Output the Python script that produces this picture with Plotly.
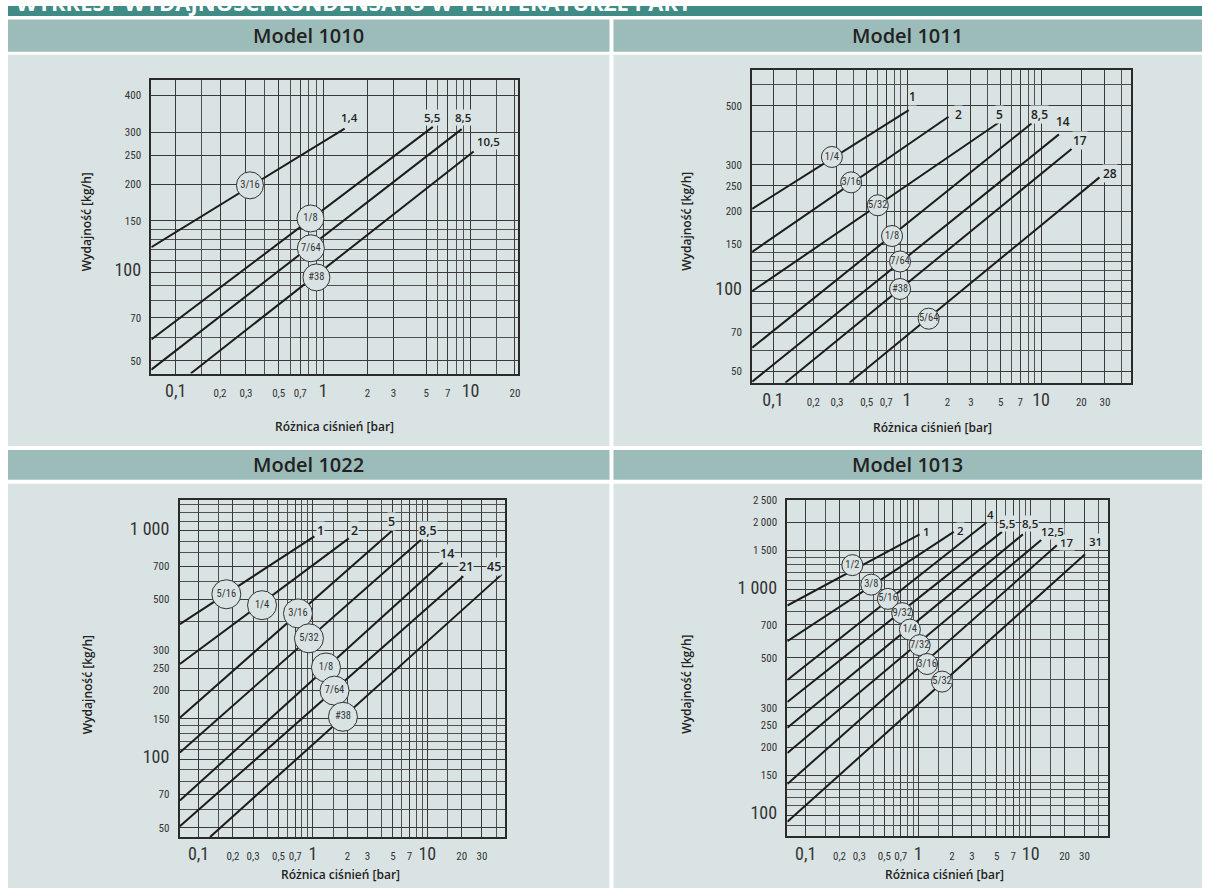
import math
import plotly.graph_objects as go

# ------------------------------------------------------------------ data
# Model 1010 : pressure difference [bar] vs capacity [kg/h]
m1010_sizes = ["1,4", "5,5", "8,5", "10,5"]
m1010_dp_start = [0.0684, 0.0684, 0.0684, 0.1266]
m1010_flow_start = [122, 59.1, 46.7, 45.3]
m1010_dp_end = [1.40, 5.55, 8.71, 10.5]
m1010_flow_end = [309, 313, 307.7, 258]
m1010_label_dp = [1.50, 5.46, 8.85, 13.3]
m1010_label_flow = [336, 336, 336, 279]
m1010_orifices = ["3/16", "1/8", "7/64", "#38"]
m1010_orifice_dp = [0.319, 0.821, 0.826, 0.901]
m1010_orifice_flow = [198, 152.7, 120.9, 96.2]

# Model 1011
m1011_sizes = ["1", "2", "5", "8,5", "14", "17", "28"]
m1011_dp_start = [0.0698, 0.0698, 0.0698, 0.0698, 0.0698, 0.1236, 0.372]
m1011_flow_start = [204.6, 140.8, 100, 61.2, 45.6, 45.2, 45.2]
m1011_dp_end = [1.03, 2.04, 4.81, 8.52, 13.6, 16.9, 27.3]
m1011_flow_end = [482, 455, 432, 430, 390.6, 344, 268.9]
m1011_label_dp = [1.09, 2.42, 4.92, 9.77, 14.7, 19.5, 32.6]
m1011_label_flow = [545, 465, 465, 465, 436, 371, 279]
m1011_orifices = ["1/4", "3/16", "5/32", "1/8", "7/64", "#38", "5/64"]
m1011_orifice_dp = [0.275, 0.383, 0.605, 0.773, 0.887, 0.887, 1.45]
m1011_orifice_flow = [321, 257.5, 211, 161.6, 129.5, 102, 78.8]

# Model 1022
m1022_sizes = ["1", "2", "5", "8,5", "14", "21", "45"]
m1022_dp_start = [0.0687, 0.0687, 0.0687, 0.0687, 0.0687, 0.0687, 0.126]
m1022_flow_start = [390, 260.8, 151.8, 107, 65.9, 50.8, 45.6]
m1022_dp_end = [1.03, 2.06, 4.92, 8.81, 13.6, 20.6, 44.8]
m1022_flow_end = [945, 926, 1000, 914, 727.5, 632.5, 644]
m1022_label_dp = [1.16, 2.32, 4.89, 10.2, 14.9, 21.7, 37.9]
m1022_label_flow = [1006, 1006, 1094, 998, 797, 697, 697]
m1022_orifices = ["5/16", "1/4", "3/16", "5/32", "1/8", "7/64", "#38"]
m1022_orifice_dp = [0.175, 0.359, 0.74, 0.923, 1.30, 1.545, 1.83]
m1022_orifice_flow = [527, 472, 434.5, 338, 252, 199.5, 153.3]

# Model 1013
m1013_sizes = ["1", "2", "4", "5,5", "8,5", "12,5", "17", "31"]
m1013_dp_start = [0.0687, 0.0687, 0.0687, 0.0687, 0.0687, 0.0687, 0.0687, 0.0687]
m1013_flow_start = [853, 592, 398.6, 318, 244.5, 188.7, 137.5, 93.4]
m1013_dp_end = [1.03, 2.07, 4.03, 5.55, 8.52, 12.4, 17.06, 30.4]
m1013_flow_end = [1765, 1811, 1987, 1811, 1765, 1667, 1578, 1440]
m1013_label_dp = [1.19, 2.37, 4.38, 6.15, 9.77, 15.7, 20.9, 37.8]
m1013_label_flow = [1811, 1838, 2163, 1973, 1973, 1811, 1622, 1649]
m1013_orifices = ["1/2", "3/8", "5/16", "9/32", "1/4", "7/32", "3/16", "5/32"]
m1013_orifice_dp = [0.26, 0.383, 0.538, 0.721, 0.844, 1.03, 1.20, 1.63]
m1013_orifice_flow = [1289, 1056, 913, 789, 667, 569, 469, 392]

# axis ticks / grid values
x_ticks_1010 = [0.1, 0.2, 0.3, 0.5, 0.7, 1, 2, 3, 5, 7, 10, 20]
x_text_1010 = ["0,1", "0,2", "0,3", "0,5", "0,7", "1", "2", "3", "5", "7", "10", "20"]
x_grid_1010 = [0.15, 0.4, 0.6, 0.8, 0.9, 6, 8, 9, 15]
y_ticks_1010 = [50, 70, 100, 150, 200, 250, 300, 400]
y_text_1010 = ["50", "70", "100", "150", "200", "250", "300", "400"]
y_grid_1010 = [60, 80, 90, 110, 120, 130, 140]

x_ticks_wide = [0.1, 0.2, 0.3, 0.5, 0.7, 1, 2, 3, 5, 7, 10, 20, 30]
x_text_wide = ["0,1", "0,2", "0,3", "0,5", "0,7", "1", "2", "3", "5", "7", "10", "20", "30"]
x_grid_1011 = [0.15, 0.4, 0.6, 0.8, 0.9, 4, 6, 8, 9, 40]
x_grid_wide = [0.15, 0.4, 0.6, 0.8, 0.9, 1.5, 4, 6, 8, 9, 15, 40]

y_ticks_1011 = [50, 70, 100, 150, 200, 250, 300, 500]
y_text_1011 = ["50", "70", "100", "150", "200", "250", "300", "500"]
y_grid_1011 = [60, 80, 90, 110, 120, 130, 140, 400, 600]

y_ticks_1022 = [50, 70, 100, 150, 200, 250, 300, 500, 700, 1000]
y_text_1022 = ["50", "70", "100", "150", "200", "250", "300", "500", "700", "1 000"]
y_grid_1022 = [60, 80, 90, 110, 120, 130, 140, 400, 600, 800, 900, 1100, 1200, 1300]

y_ticks_1013 = [100, 150, 200, 250, 300, 500, 700, 1000, 1500, 2000, 2500]
y_text_1013 = ["100", "150", "200", "250", "300", "500", "700", "1 000", "1 500", "2 000", "2 500"]
y_grid_1013 = [90, 110, 120, 130, 140, 400, 600, 800, 900, 1100, 1200, 1300, 1400]

BIG_LABELS = {"0,1", "1", "10", "100", "1 000"}

# ------------------------------------------------------------------ style
W, H = 1205, 888
BANNER = "#418b86"
HEAD = "#9cbcb9"
BODY = "#dae3e3"
NUM = "Liberation Sans Narrow, Arial Narrow, Roboto Condensed, Roboto, sans-serif"
TXT = "Open Sans, Noto Sans, sans-serif"


def fx(p):
    return p / W


def fy(p):
    return 1 - p / H


def fmt(labels):
    return [f"<span style='font-size:18px'>{t}</span>" if t in BIG_LABELS else t for t in labels]


fig = go.Figure()
shapes = []
annotations = []


def rect(x0, y0, x1, y1, c):
    shapes.append(dict(type="rect", xref="paper", yref="paper", x0=fx(x0), x1=fx(x1),
                       y0=fy(y1), y1=fy(y0), fillcolor=c, line=dict(width=0), layer="below"))


rect(8, 0, 1205, 10, BANNER)
rect(8, 13.5, 611, 46, HEAD)
rect(615, 13.5, 1205, 46, HEAD)
rect(8, 49, 611, 443, BODY)
rect(615, 49, 1205, 443, BODY)
rect(8, 447, 611, 477, HEAD)
rect(615, 447, 1205, 477, HEAD)
rect(8, 481, 611, 888, BODY)
rect(615, 481, 1205, 888, BODY)

annotations.append(dict(text="<b>WYKRESY WYDAJNOŚCI KONDENSATU W TEMPERATURZE PARY</b>",
                        xref="paper", yref="paper", x=fx(14), y=fy(-4), xanchor="left",
                        yanchor="middle", showarrow=False,
                        font=dict(family=TXT, size=22, color="white")))

panels = [
    dict(title="Model 1010", hx=309.5, hy=30, xd=(151.7, 519), yd=(74, 370),
         xr=(-1.165, 1.32), yr=(1.656, 2.657),
         xt=x_ticks_1010, xtt=x_text_1010, xg=x_grid_1010,
         yt=y_ticks_1010, ytt=y_text_1010, yg=y_grid_1010,
         sizes=m1010_sizes, xs=m1010_dp_start, ys=m1010_flow_start,
         xe=m1010_dp_end, ye=m1010_flow_end, lx=m1010_label_dp, ly=m1010_label_flow,
         on=m1010_orifices, ox=m1010_orifice_dp, oy=m1010_orifice_flow, od=27,
         ytitle=(87, 217), xtitle=(335, 423), lsize=11.5),
    dict(title="Model 1011", hx=910, hy=30, xd=(754, 1134.3), yd=(64.3, 379.3),
         xr=(-1.156, 1.675), yr=(1.655, 2.835),
         xt=x_ticks_wide, xtt=x_text_wide, xg=x_grid_1011,
         yt=y_ticks_1011, ytt=y_text_1011, yg=y_grid_1011,
         sizes=m1011_sizes, xs=m1011_dp_start, ys=m1011_flow_start,
         xe=m1011_dp_end, ye=m1011_flow_end, lx=m1011_label_dp, ly=m1011_label_flow,
         on=m1011_orifices, ox=m1011_orifice_dp, oy=m1011_orifice_flow, od=21,
         ytitle=(688, 217), xtitle=(935, 424), lsize=12),
    dict(title="Model 1022", hx=309.5, hy=462, xd=(180, 506.7), yd=(497.7, 836.7),
         xr=(-1.166, 1.683), yr=(1.659, 3.133),
         xt=x_ticks_wide, xtt=x_text_wide, xg=x_grid_wide,
         yt=y_ticks_1022, ytt=y_text_1022, yg=y_grid_1022,
         sizes=m1022_sizes, xs=m1022_dp_start, ys=m1022_flow_start,
         xe=m1022_dp_end, ye=m1022_flow_end, lx=m1022_label_dp, ly=m1022_label_flow,
         on=m1022_orifices, ox=m1022_orifice_dp, oy=m1022_orifice_flow, od=29,
         ytitle=(88, 683), xtitle=(341, 874), lsize=12.5),
    dict(title="Model 1013", hx=910, hy=462, xd=(789.3, 1111), yd=(497.7, 836),
         xr=(-1.163, 1.689), yr=(1.906, 3.398),
         xt=x_ticks_wide, xtt=x_text_wide, xg=x_grid_wide,
         yt=y_ticks_1013, ytt=y_text_1013, yg=y_grid_1013,
         sizes=m1013_sizes, xs=m1013_dp_start, ys=m1013_flow_start,
         xe=m1013_dp_end, ye=m1013_flow_end, lx=m1013_label_dp, ly=m1013_label_flow,
         on=m1013_orifices, ox=m1013_orifice_dp, oy=m1013_orifice_flow, od=21,
         ytitle=(688, 683), xtitle=(947, 874), lsize=11.5),
]

layout_axes = {}
for i, p in enumerate(panels, start=1):
    xa = "x" if i == 1 else f"x{i}"
    ya = "y" if i == 1 else f"y{i}"
    common = dict(type="log", showline=True, mirror=True, linecolor="#2a2a2a", linewidth=2,
                  ticks="", showgrid=True, gridcolor="#3a3a3a", gridwidth=1.3, zeroline=False,
                  tickmode="array", tickfont=dict(family=NUM, size=11, color="#333"),
                  fixedrange=True)
    layout_axes["xaxis" if i == 1 else f"xaxis{i}"] = dict(
        common, range=list(p["xr"]), domain=[fx(p["xd"][0]), fx(p["xd"][1])], anchor=ya,
        tickvals=p["xt"], ticktext=fmt(p["xtt"]), tickangle=0, ticklabelstandoff=8,
        minor=dict(tickmode="array", tickvals=p["xg"], showgrid=True, gridcolor="#505050",
                   gridwidth=1, ticks=""))
    layout_axes["yaxis" if i == 1 else f"yaxis{i}"] = dict(
        common, range=list(p["yr"]), domain=[fy(p["yd"][1]), fy(p["yd"][0])], anchor=xa,
        tickvals=p["yt"], ticktext=fmt(p["ytt"]), ticklabelstandoff=6,
        minor=dict(tickmode="array", tickvals=p["yg"], showgrid=True, gridcolor="#505050",
                   gridwidth=1, ticks=""))

    for k in range(len(p["sizes"])):
        fig.add_trace(go.Scatter(x=[p["xs"][k], p["xe"][k]], y=[p["ys"][k], p["ye"][k]],
                                 mode="lines", line=dict(color="#1c1c1c", width=2),
                                 xaxis=xa, yaxis=ya, showlegend=False, hoverinfo="skip"))
    # size labels, drawn last-to-first so neighbouring labels stay readable
    for k in reversed(range(len(p["sizes"]))):
        annotations.append(dict(x=math.log10(p["lx"][k]), y=math.log10(p["ly"][k]),
                                xref=xa, yref=ya, text=p["sizes"][k], showarrow=False,
                                xanchor="center", yanchor="middle", bgcolor=BODY, borderpad=0,
                                font=dict(family=TXT, size=p["lsize"], color="#222", weight=600)))
    fig.add_trace(go.Scatter(x=p["ox"], y=p["oy"], text=p["on"], mode="markers+text",
                             textposition="middle center", cliponaxis=False,
                             marker=dict(size=p["od"], color=BODY, line=dict(color="#333", width=1)),
                             textfont=dict(family=NUM, size=10.5, color="#333"),
                             xaxis=xa, yaxis=ya, showlegend=False, hoverinfo="skip"))

    annotations.append(dict(text=p["title"], xref="paper", yref="paper", x=fx(p["hx"]),
                            y=fy(p["hy"]), xanchor="center", yanchor="middle", showarrow=False,
                            font=dict(family=TXT, size=20, color="#222", weight=600)))
    annotations.append(dict(text="Wydajność [kg/h]", xref="paper", yref="paper",
                            x=fx(p["ytitle"][0]), y=fy(p["ytitle"][1]), textangle=-90,
                            xanchor="center", yanchor="middle", showarrow=False,
                            font=dict(family=TXT, size=12, color="#222", weight=600)))
    annotations.append(dict(text="Różnica ciśnień [bar]", xref="paper", yref="paper",
                            x=fx(p["xtitle"][0]), y=fy(p["xtitle"][1]),
                            xanchor="center", yanchor="middle", showarrow=False,
                            font=dict(family=TXT, size=12, color="#222", weight=600)))

fig.update_layout(width=W, height=H, margin=dict(l=0, r=0, t=0, b=0),
                  paper_bgcolor="white", plot_bgcolor="rgba(0,0,0,0)",
                  showlegend=False, shapes=shapes, annotations=annotations, **layout_axes)

fig.write_html("out.html", config={"displayModeBar": False},
               post_script="document.body.style.margin='0';"
                           "document.body.style.overflow='hidden';")
